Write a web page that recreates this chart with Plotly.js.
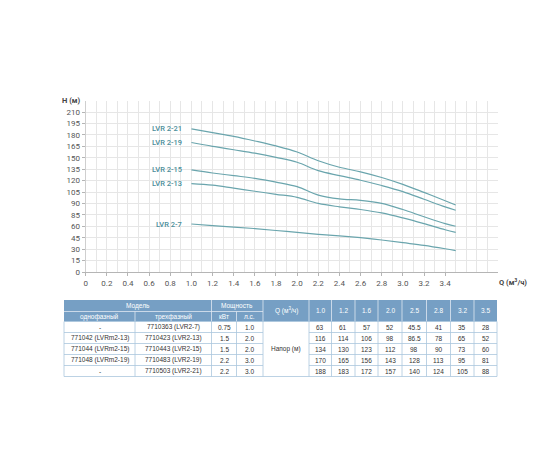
<!DOCTYPE html>
<html>
<head>
<meta charset="utf-8">
<script src="https://cdn.plot.ly/plotly-3.0.1.min.js"></script>
<style>html,body{margin:0;padding:0;background:#fff;}#chart{width:560px;height:460px;}</style>
</head>
<body>
<div id="chart"></div>
<script>
// ---- curve data ----
const curveNames = ["LVR 2-21", "LVR 2-19", "LVR 2-15", "LVR 2-13", "LVR 2-7"];
const curveQ = [1.0, 1.2, 1.4, 1.6, 1.8, 2.0, 2.2, 2.4, 2.6, 2.8, 3.0, 3.2, 3.4, 3.5];
const headLVR2_21 = [188, 183, 178, 172, 165.5, 157.5, 146, 137.5, 131.5, 124, 115, 104.5, 93.5, 88];
const headLVR2_19 = [170, 165, 160.5, 156, 150.5, 144, 133, 126.5, 120.5, 113.5, 105.5, 95.5, 85.5, 81];
const headLVR2_15 = [134, 130, 126.5, 123, 118, 112, 101, 96, 94, 90, 82, 72.5, 63.5, 60];
const headLVR2_13 = [116, 114, 110, 106, 102, 98, 90, 85.5, 82, 77.5, 71, 63.5, 55.5, 52];
const headLVR2_7  = [63, 61, 59, 57, 54.5, 52, 49.5, 47.5, 45, 42, 38.5, 35, 30.5, 28];
const curveHeads = [headLVR2_21, headLVR2_19, headLVR2_15, headLVR2_13, headLVR2_7];

// ---- axis ticks ----
const xTickVals = [0, 0.2, 0.4, 0.6, 0.8, 1.0, 1.2, 1.4, 1.6, 1.8, 2.0, 2.2, 2.4, 2.6, 2.8, 3.0, 3.2, 3.4];
const xTickText = ["0", "0.2", "0.4", "0.6", "0.8", "1.0", "1.2", "1.4", "1.6", "1.8", "2.0", "2.2", "2.4", "2.6", "2.8", "3.0", "3.2", "3.4"];
const yTickVals = [0, 15, 30, 45, 60, 75, 90, 105, 120, 135, 150, 165, 180, 195, 210];
const yTickText = ["0", "15", "30", "45", "60", "85", "90", "105", "120", "135", "150", "165", "180", "195", "210"];

// ---- table data ----
const hdrModel = "Модель";
const hdrPower = "Мощность";
const hdrSingle = "однофазный";
const hdrThree = "трехфазный";
const hdrKW = "кВт";
const hdrHP = "л.с.";
const hdrQ = "Q (м<sup>3</sup>/ч)";
const hdrHead = "Напор (м)";
const tableQ = ["1.0", "1.2", "1.6", "2.0", "2.5", "2.8", "3.2", "3.5"];
const singlePhase = ["-", "771042 (LVRm2-13)", "771044 (LVRm2-15)", "771048 (LVRm2-19)", "-"];
const threePhase = ["7710363 (LVR2-7)", "7710423 (LVR2-13)", "7710443 (LVR2-15)", "7710483 (LVR2-19)", "7710503 (LVR2-21)"];
const powerKW = ["0.75", "1.5", "1.5", "2.2", "2.2"];
const powerHP = ["1.0", "2.0", "2.0", "3.0", "3.0"];
const tableHeads = [
  ["63", "61", "57", "52", "45.5", "41", "35", "28"],
  ["116", "114", "106", "98", "86.5", "78", "65", "52"],
  ["134", "130", "123", "112", "98", "90", "73", "60"],
  ["170", "165", "156", "143", "128", "113", "95", "81"],
  ["188", "183", "172", "157", "140", "124", "105", "88"]
];

// ---- styling / layout constants ----
const W = 560, H = 460;
const lineColor = "#6aa5ad";
const labelColor = "#4b8e9a";
const gridColor = "#e6e6e6";
const hdrColor = "#769fc4";
const borderColor = "#abc6dd";
const colEdges = [64, 135, 211.5, 236.5, 263, 309, 331.5, 355, 378, 402, 426.5, 450.5, 474, 497];
const hdrTop = 300, hdrMid = 311.5, hdrBot = 321.5, rowH = 11;

const traces = [];
curveHeads.forEach((hs, i) => {
  traces.push({
    x: curveQ, y: hs, type: "scatter", mode: "lines",
    line: {color: lineColor, width: 1.2, shape: "spline", smoothing: 1},
    hoverinfo: "skip", showlegend: false, xaxis: "x", yaxis: "y"
  });
});
// anchor trace for table axes
traces.push({x: [0], y: [0], type: "scatter", mode: "markers", marker: {opacity: 0}, hoverinfo: "skip", showlegend: false, xaxis: "x2", yaxis: "y2"});

const annotations = [];
curveHeads.forEach((hs, i) => {
  annotations.push({
    x: curveQ[0], y: hs[0], xref: "x", yref: "y", text: curveNames[i],
    showarrow: false, xanchor: "right", yanchor: "middle", xshift: -7,
    font: {family: "Roboto", size: 7.5, color: labelColor, weight: 500}
  });
});
annotations.push({x: 71, y: 100, xref: "x2", yref: "y2", text: "H (м)", showarrow: false,
  font: {family: "Roboto", size: 7.5, color: "#444", weight: 700}});
annotations.push({x: 513, y: 282, xref: "x2", yref: "y2", text: "Q (м<sup>3</sup>/ч)", showarrow: false,
  font: {family: "Roboto", size: 7.5, color: "#444", weight: 700}});

const shapes = [];
const tFont = {family: "Liberation Sans", size: 6.5, color: "#333"};
const hFont = {family: "Liberation Sans", size: 6.5, color: "#ffffff"};
function cx(a, b) { return (colEdges[a] + colEdges[b]) / 2; }
function txt(x, y, t, f) {
  annotations.push({x: x, y: y, xref: "x2", yref: "y2", text: t, showarrow: false, xanchor: "center", yanchor: "middle", font: f});
}
function ln(x0, y0, x1, y1, c, w) {
  shapes.push({type: "line", xref: "x2", yref: "y2", x0: x0, y0: y0, x1: x1, y1: y1, line: {color: c, width: w}});
}
const nRows = threePhase.length;
const tblBot = hdrBot + nRows * rowH;
const L = colEdges[0], R = colEdges[colEdges.length - 1];
// header background
shapes.push({type: "rect", xref: "x2", yref: "y2", x0: L, x1: R, y0: hdrTop, y1: hdrBot, fillcolor: hdrColor, line: {width: 0}, layer: "below"});
// header separators (white)
ln(colEdges[0], hdrMid, colEdges[4], hdrMid, "#dfe9f2", 0.8);
[2, 4, 5, 6, 7, 8, 9, 10, 11, 12].forEach(k => ln(colEdges[k], hdrTop, colEdges[k], hdrBot, "#dfe9f2", 0.8));
[1, 3].forEach(k => ln(colEdges[k], hdrMid, colEdges[k], hdrBot, "#dfe9f2", 0.8));
// data grid
for (let r = 0; r <= nRows; r++) {
  const y = hdrBot + r * rowH;
  if (r === 0 || r === nRows) {
    ln(L, y, R, y, borderColor, 0.8);
  } else {
    ln(colEdges[0], y, colEdges[4], y, borderColor, 0.8);
    ln(colEdges[5], y, R, y, borderColor, 0.8);
  }
}
colEdges.forEach(x => ln(x, hdrBot, x, tblBot, borderColor, 0.8));
// header texts
txt(cx(0, 2), (hdrTop + hdrMid) / 2, hdrModel, hFont);
txt(cx(2, 4), (hdrTop + hdrMid) / 2, hdrPower, hFont);
txt(cx(0, 1), (hdrMid + hdrBot) / 2, hdrSingle, hFont);
txt(cx(1, 2), (hdrMid + hdrBot) / 2, hdrThree, hFont);
txt(cx(2, 3), (hdrMid + hdrBot) / 2, hdrKW, hFont);
txt(cx(3, 4), (hdrMid + hdrBot) / 2, hdrHP, hFont);
txt(cx(4, 5), (hdrTop + hdrBot) / 2, hdrQ, hFont);
tableQ.forEach((q, j) => txt(cx(5 + j, 6 + j), (hdrTop + hdrBot) / 2, q, hFont));
// data texts
for (let r = 0; r < nRows; r++) {
  const y = hdrBot + (r + 0.5) * rowH;
  txt(cx(0, 1), y, singlePhase[r], tFont);
  txt(cx(1, 2), y, threePhase[r], tFont);
  txt(cx(2, 3), y, powerKW[r], tFont);
  txt(cx(3, 4), y, powerHP[r], tFont);
  tableHeads[r].forEach((v, j) => txt(cx(5 + j, 6 + j), y, v, tFont));
}
txt(cx(4, 5), (hdrBot + tblBot) / 2, hdrHead, tFont);

const axFont = {family: "Roboto", size: 8, color: "#555"};
const layout = {
  width: W, height: H,
  margin: {l: 0, r: 0, t: 0, b: 0},
  paper_bgcolor: "#ffffff", plot_bgcolor: "rgba(0,0,0,0)",
  showlegend: false,
  xaxis: {
    domain: [85.7 / W, 498 / W], range: [0, 3.9], anchor: "y",
    tickmode: "array", tickvals: xTickVals, ticktext: xTickText,
    showgrid: true, gridcolor: gridColor, gridwidth: 1,
    minor: {tickmode: "linear", tick0: 0, dtick: 0.1, showgrid: true, gridcolor: gridColor, gridwidth: 1, ticks: ""},
    zeroline: false, showline: true, linecolor: "#b5b5b5", linewidth: 1,
    ticks: "outside", ticklen: 3, tickcolor: "#b5b5b5", tickfont: axFont, fixedrange: true
  },
  yaxis: {
    domain: [1 - 272 / H, 1 - 100.6 / H], range: [0, 225], anchor: "x",
    tickmode: "array", tickvals: yTickVals, ticktext: yTickText,
    showgrid: true, gridcolor: gridColor, gridwidth: 1,
    zeroline: false, showline: true, linecolor: "#cfcfcf", linewidth: 1,
    ticks: "outside", ticklen: 3, tickcolor: "#b5b5b5", tickfont: axFont, fixedrange: true
  },
  xaxis2: {domain: [0, 1], range: [0, W], anchor: "y2", visible: false, fixedrange: true},
  yaxis2: {domain: [0, 1], range: [H, 0], anchor: "x2", visible: false, fixedrange: true},
  shapes: shapes,
  annotations: annotations
};
Plotly.newPlot("chart", traces, layout, {staticPlot: true, displayModeBar: false});
</script>
</body>
</html>
